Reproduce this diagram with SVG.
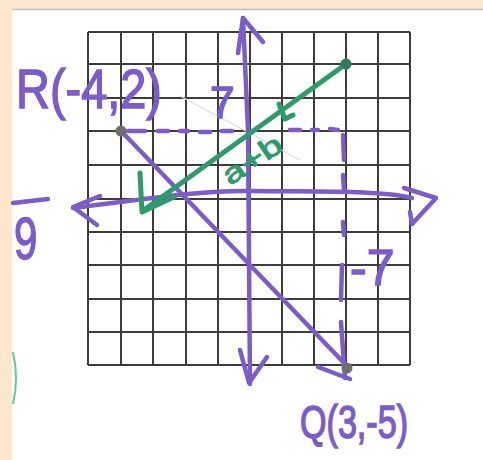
<svg xmlns="http://www.w3.org/2000/svg" width="483" height="460" viewBox="0 0 483 460">
<defs>
<style>
.grid line{stroke:#3c3c3c;stroke-width:2}
.pu{fill:none;stroke:#7b5cc9;stroke-width:4.5;stroke-linecap:round;stroke-linejoin:round}
.gr{fill:none;stroke:#2f9a6c;stroke-width:5;stroke-linecap:round;stroke-linejoin:round}
.pt{fill:#7b5cc9;stroke:#7b5cc9;stroke-width:1.5;font-family:"Liberation Sans",Arial,sans-serif}
.gt{fill:#2f9a6c;stroke:#2f9a6c;stroke-width:1;font-family:"Liberation Sans",Arial,sans-serif}
</style>
</defs>
<rect width="483" height="460" fill="#fde7cc"/>
<rect x="12" y="9" width="471" height="451" fill="#ffffff"/>
<line x1="12" y1="9.5" x2="483" y2="9.5" stroke="#bdbdbd" stroke-width="1.5"/>
<path d="M13,352 Q19,378 13,404" fill="none" stroke="#5fc9a4" stroke-width="2"/>
<g class="grid" id="grid">
<line x1="88" y1="32" x2="88" y2="365"/><line x1="121" y1="32" x2="121" y2="365"/><line x1="153" y1="32" x2="153" y2="365"/><line x1="186" y1="32" x2="186" y2="365"/><line x1="218" y1="32" x2="218" y2="365"/><line x1="250" y1="32" x2="250" y2="365"/><line x1="282" y1="32" x2="282" y2="365"/><line x1="314" y1="32" x2="314" y2="365"/><line x1="346" y1="32" x2="346" y2="365"/><line x1="378" y1="32" x2="378" y2="365"/><line x1="410" y1="32" x2="410" y2="365"/>
<line x1="88" y1="32" x2="410" y2="32"/><line x1="88" y1="64" x2="410" y2="64"/><line x1="88" y1="98" x2="410" y2="98"/><line x1="88" y1="131" x2="410" y2="131"/><line x1="88" y1="165" x2="410" y2="165"/><line x1="88" y1="199" x2="410" y2="199"/><line x1="88" y1="232" x2="410" y2="232"/><line x1="88" y1="265" x2="410" y2="265"/><line x1="88" y1="299" x2="410" y2="299"/><line x1="88" y1="332" x2="410" y2="332"/><line x1="88" y1="365" x2="410" y2="365"/>
</g>
<line x1="180" y1="96" x2="300" y2="160" stroke="#dddddd" stroke-width="1.2"/>
<g id="connectors">
<path class="pu" d="M243,18 L248,130 L250,384"/>
<path class="pu" d="M238,53 L243,18 L263,42"/>
<path class="pu" d="M240,350 L249,383 L267,357"/>
<path class="pu" d="M73,208 C140,200 200,190 250,191 C320,192 380,190 412,198"/>
<path class="pu" d="M100,196 L73,207 L97,225"/>
<path class="pu" d="M404,188 L436,198 L412,224 L410,212"/>
<path class="pu" d="M124,134 L347,366"/>
<path class="pu" d="M341,322 L345,378 M318,367 L350,379"/>
<path class="pu" d="M128,131 L145,131 M158,131 L168,131 M180,131 L188,131 M200,132 L210,132 M222,131 L232,131 M290,130 L300,130 M312,130 L318,130 M330,129 L338,130" stroke-width="3"/>
<path class="pu" d="M343,135 L344,160 M343,175 L344,190 M343,222 L344,235 M342,265 L341,300" stroke-width="3"/>
<path class="gr" d="M346,64 L144,210"/>
<path class="gr" d="M140,173 L142,212 L174,197"/>
<path class="gr" d="M279,104 L285,119 L293,115" stroke-width="3.5"/>
</g>
<g id="R"><circle cx="121" cy="131" r="5.5" fill="#6e6e6e"/>
<text class="pt" x="16" y="108" font-size="56" textLength="146" lengthAdjust="spacingAndGlyphs">R(-4,2)</text></g>
<g id="Q"><circle cx="347" cy="368" r="5.5" fill="#6e6e6e"/>
<text class="pt" x="300" y="438" font-size="46" textLength="108" lengthAdjust="spacingAndGlyphs">Q(3,-5)</text></g>
<g id="P"><circle cx="346" cy="64" r="5.5" fill="#2f7a5c"/></g>
<g id="labels">
<text class="pt" x="210" y="118" font-size="44">7</text>
<text class="pt" x="350" y="285" font-size="50">-7</text>
<path class="pu" d="M13,203 L48,199" stroke-width="3.5"/>
<text class="pt" x="14" y="259" font-size="60" transform="translate(14 259) scale(0.7 1) translate(-14 -259)">9</text>
<text class="gt" x="230" y="186" font-size="28" textLength="66" lengthAdjust="spacingAndGlyphs" transform="rotate(-34 230 186)">a+b</text>
</g>
</svg>
